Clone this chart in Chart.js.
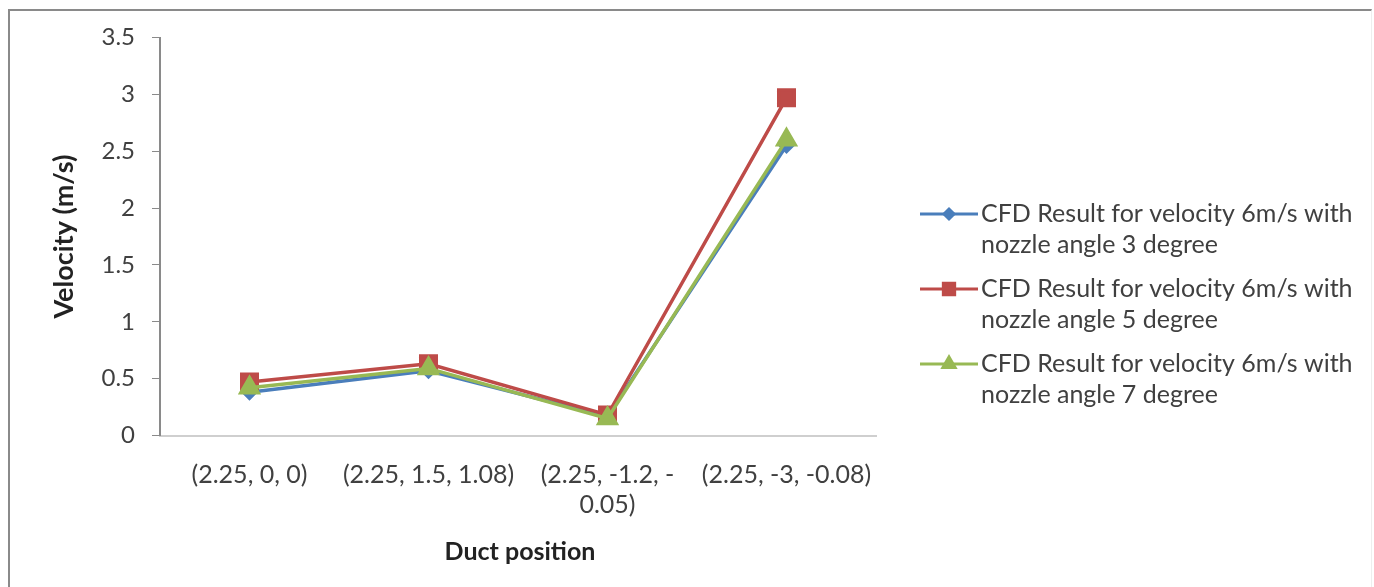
<!DOCTYPE html>
<html><head><meta charset="utf-8">
<script src="https://cdn.jsdelivr.net/npm/chart.js@4.4.1/dist/chart.umd.min.js"></script>
<style>
html,body{margin:0;padding:0;background:#fff;overflow:hidden;}
#frame{position:absolute;left:8px;top:9px;width:1364px;height:600px;border-top:2px solid #8a8a8a;border-left:2px solid #8a8a8a;border-right:1px solid #eeeeee;box-sizing:border-box;}
#wrap{position:absolute;left:0;top:0;width:1374px;height:587px;}
</style></head><body>
<div id="frame"></div>
<div id="wrap"><canvas id="c" width="1374" height="587"></canvas></div>
<script>
const categories = [["(2.25, 0, 0)"], ["(2.25, 1.5, 1.08)"], ["(2.25, -1.2, -", "0.05)"], ["(2.25, -3, -0.08)"]];
const angle3 = [0.38, 0.57, 0.17, 2.55];
const angle5 = [0.47, 0.63, 0.18, 2.97];
const angle7 = [0.42, 0.59, 0.15, 2.60];
const seriesNames = [
  ["CFD Result for velocity 6m/s with", "nozzle angle 3 degree"],
  ["CFD Result for velocity 6m/s with", "nozzle angle 5 degree"],
  ["CFD Result for velocity 6m/s with", "nozzle angle 7 degree"]
];
const yTitle = "Velocity (m/s)";
const xTitle = "Duct position";

const FONT = "Lato, 'Open Sans', sans-serif";
const colors = ["#4A7EBB", "#BE4B48", "#98B954"];
const styles = ["rectRot", "rect", "triangle"];
const radii = [6, 11, 10];
const legendRadii = [5, 8, 7];
const orders = [2, 1, 0];

const legendPlugin = {
  id: 'sideLegend',
  afterDraw(chart) {
    const ctx = chart.ctx;
    ctx.save();
    chart.data.datasets.forEach((ds, i) => {
      const y = 214 + i * 75;
      ctx.strokeStyle = ds.borderColor;
      ctx.lineWidth = 3;
      ctx.beginPath(); ctx.moveTo(920, y); ctx.lineTo(978, y); ctx.stroke();
      ctx.fillStyle = ds.borderColor;
      Chart.helpers.drawPoint(ctx, {pointStyle: ds.pointStyle, radius: legendRadii[i], borderWidth: 1}, 949, y);
      ctx.fill();
      ctx.fillStyle = '#404040';
      ctx.font = "25px " + FONT;
      ctx.textAlign = 'left';
      ctx.textBaseline = 'middle';
      seriesNames[i].forEach((t, k) => ctx.fillText(t, 981, y + k * 31));
    });
    // x axis title
    ctx.fillStyle = '#222';
    ctx.font = "bold 25px " + FONT;
    ctx.textAlign = 'center';
    ctx.textBaseline = 'middle';
    ctx.fillText(xTitle, 520, 552);
    ctx.restore();
  }
};

const mk = (data, i) => ({
  label: seriesNames[i].join(" "),
  data: data,
  order: orders[i],
  borderColor: colors[i],
  backgroundColor: colors[i],
  pointBackgroundColor: colors[i],
  pointBorderColor: colors[i],
  pointStyle: styles[i],
  pointRadius: radii[i],
  borderWidth: 3.5,
  tension: 0
});

new Chart(document.getElementById('c'), {
  type: 'line',
  data: {
    labels: categories,
    datasets: [mk(angle3, 0), mk(angle5, 1), mk(angle7, 2)]
  },
  plugins: [legendPlugin],
  options: {
    responsive: false,
    animation: false,
    devicePixelRatio: 1,
    layout: {padding: {left: 48, right: 498, top: 37.5, bottom: 23}},
    plugins: {legend: {display: false}, tooltip: {enabled: false}},
    scales: {
      x: {
        offset: true,
        grid: {display: false, drawTicks: false},
        border: {display: true, color: '#cfcfcf', width: 2},
        ticks: {color: '#404040', font: {family: FONT, size: 25}, padding: 24, maxRotation: 0, autoSkip: false},
        title: {display: false},
        afterFit(s) { s.height = 128.5; }
      },
      y: {
        min: 0, max: 3.5,
        ticks: {stepSize: 0.5, color: '#404040', font: {family: FONT, size: 24}, padding: 17,
                callback: v => String(v)},
        grid: {drawOnChartArea: false, drawTicks: true, tickLength: 8, color: '#8a8a8a'},
        border: {display: true, color: '#8a8a8a', width: 2},
        title: {display: true, text: yTitle, color: '#222', font: {family: FONT, size: 27, weight: 'bold'}, padding: 0},
        afterFit(s) { s.width = 112; }
      }
    }
  }
});
</script>
</body></html>
